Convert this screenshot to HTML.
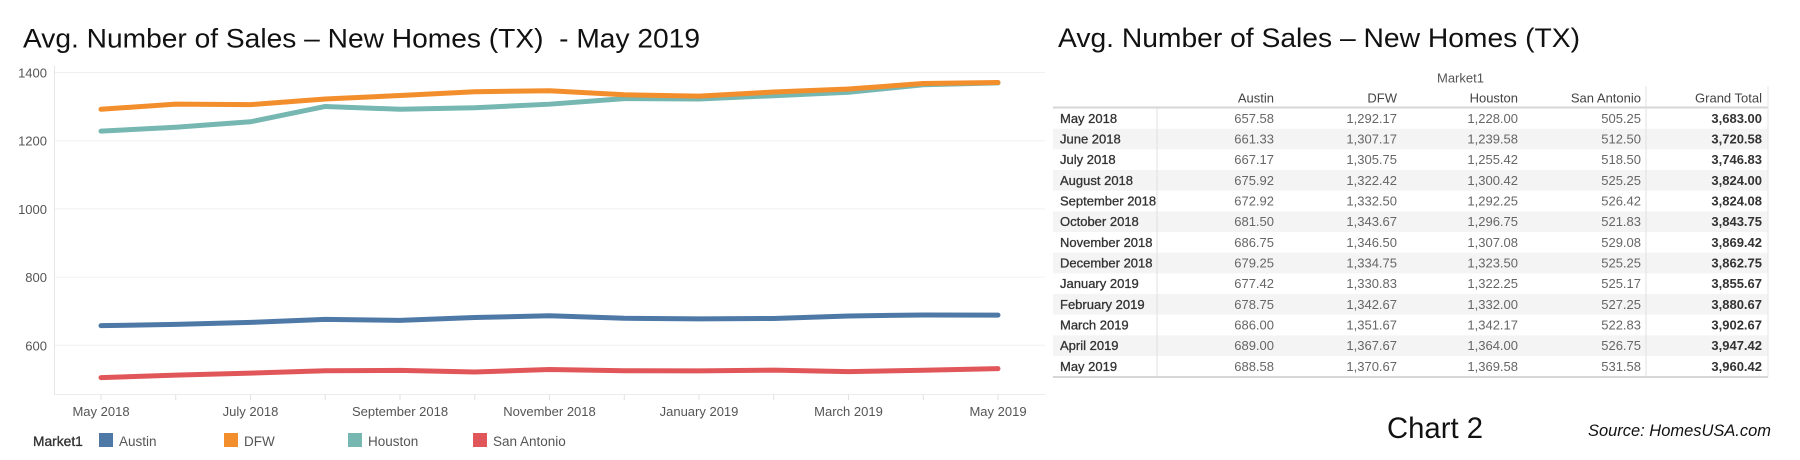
<!DOCTYPE html>
<html>
<head>
<meta charset="utf-8">
<style>
html,body{margin:0;padding:0;background:#fff;}
svg{display:block;}
text{font-family:"Liberation Sans",Arial,sans-serif;}
</style>
</head>
<body>
<svg width="1800" height="460" viewBox="0 0 1800 460" xmlns="http://www.w3.org/2000/svg">
<rect width="1800" height="460" fill="#fff"/>

<!-- Left title -->
<text x="23" y="47.5" font-size="27" fill="#111" textLength="677" lengthAdjust="spacingAndGlyphs">Avg. Number of Sales – New Homes (TX)&#160; - May 2019</text>

<!-- Gridlines -->
<g stroke="#f0f0f0" stroke-width="1">
<line x1="54" y1="72.5" x2="1045" y2="72.5"/>
<line x1="54" y1="140.7" x2="1045" y2="140.7"/>
<line x1="54" y1="208.9" x2="1045" y2="208.9"/>
<line x1="54" y1="277.1" x2="1045" y2="277.1"/>
<line x1="54" y1="345.3" x2="1045" y2="345.3"/>
</g>
<line x1="54.5" y1="66" x2="54.5" y2="395" stroke="#e6e6e6" stroke-width="1"/>
<line x1="54" y1="394.5" x2="1045" y2="394.5" stroke="#ebebeb" stroke-width="1"/>

<!-- month ticks -->
<g stroke="#e0e0e0" stroke-width="1">
<line x1="101" y1="395" x2="101" y2="400"/>
<line x1="175.75" y1="395" x2="175.75" y2="400"/>
<line x1="250.5" y1="395" x2="250.5" y2="400"/>
<line x1="325.25" y1="395" x2="325.25" y2="400"/>
<line x1="400" y1="395" x2="400" y2="400"/>
<line x1="474.75" y1="395" x2="474.75" y2="400"/>
<line x1="549.5" y1="395" x2="549.5" y2="400"/>
<line x1="624.25" y1="395" x2="624.25" y2="400"/>
<line x1="699" y1="395" x2="699" y2="400"/>
<line x1="773.75" y1="395" x2="773.75" y2="400"/>
<line x1="848.5" y1="395" x2="848.5" y2="400"/>
<line x1="923.25" y1="395" x2="923.25" y2="400"/>
<line x1="998" y1="395" x2="998" y2="400"/>
</g>

<!-- Y labels -->
<g font-size="13" fill="#555" text-anchor="end">
<text x="47" y="77.5">1400</text>
<text x="47" y="145.7">1200</text>
<text x="47" y="213.9">1000</text>
<text x="47" y="282.1">800</text>
<text x="47" y="350.3">600</text>
</g>

<!-- X labels -->
<g font-size="13" fill="#555" text-anchor="middle">
<text x="101" y="416">May 2018</text>
<text x="250.5" y="416">July 2018</text>
<text x="400" y="416">September 2018</text>
<text x="549.5" y="416">November 2018</text>
<text x="699" y="416">January 2019</text>
<text x="848.5" y="416">March 2019</text>
<text x="998" y="416">May 2019</text>
</g>

<!-- Series -->
<g fill="none" stroke-width="5" stroke-linecap="round" stroke-linejoin="round">
<polyline stroke="#4e79a7" points="101,325.67 175.75,324.39 250.5,322.40 325.25,319.41 400,320.43 474.75,317.51 549.5,315.72 624.25,318.28 699,318.90 773.75,318.45 848.5,315.97 923.25,314.95 998,315.09"/>
<polyline stroke="#76b7b2" points="101,131.15 175.75,127.20 250.5,121.80 325.25,106.46 400,109.24 474.75,107.71 549.5,104.19 624.25,98.59 699,99.01 773.75,95.69 848.5,92.22 923.25,84.78 998,82.87"/>
<polyline stroke="#f28e2b" points="101,109.27 175.75,104.16 250.5,104.64 325.25,98.95 400,95.52 474.75,91.71 549.5,90.74 624.25,94.75 699,96.09 773.75,92.05 848.5,88.98 923.25,83.52 998,82.50"/>
<polyline stroke="#e15759" points="101,377.61 175.75,375.14 250.5,373.09 325.25,370.79 400,370.39 474.75,371.96 549.5,369.48 624.25,370.79 699,370.82 773.75,370.11 848.5,371.62 923.25,370.28 998,368.63"/>
</g>

<!-- Legend -->
<text x="33" y="446" font-size="13.8" fill="#333" stroke="#333" stroke-width="0.35">Market1</text>
<rect x="99" y="433" width="14" height="14" fill="#4e79a7"/>
<text x="119" y="446" font-size="13.5" fill="#555">Austin</text>
<rect x="224" y="433" width="14" height="14" fill="#f28e2b"/>
<text x="244" y="446" font-size="13.5" fill="#555">DFW</text>
<rect x="348" y="433" width="14" height="14" fill="#76b7b2"/>
<text x="368" y="446" font-size="13.5" fill="#555">Houston</text>
<rect x="473" y="433" width="14" height="14" fill="#e15759"/>
<text x="493" y="446" font-size="13.5" fill="#555">San Antonio</text>

<!-- Right title -->
<text x="1058" y="47" font-size="27" fill="#111" textLength="522" lengthAdjust="spacingAndGlyphs">Avg. Number of Sales – New Homes (TX)</text>

<!-- Table shading -->
<g fill="#f4f4f4">
<rect x="1053" y="128.67" width="715" height="20.67"/>
<rect x="1053" y="170.0" width="715" height="20.67"/>
<rect x="1053" y="211.33" width="715" height="20.67"/>
<rect x="1053" y="252.67" width="715" height="20.67"/>
<rect x="1053" y="294.0" width="715" height="20.67"/>
<rect x="1053" y="335.33" width="715" height="20.67"/>
</g>

<!-- Table lines -->
<line x1="1053" y1="107.5" x2="1768" y2="107.5" stroke="#d6d6d6" stroke-width="2"/>
<line x1="1053" y1="377" x2="1768" y2="377" stroke="#d6d6d6" stroke-width="2"/>
<line x1="1157" y1="108" x2="1157" y2="377" stroke="#e0e0e0" stroke-width="1"/>
<line x1="1646" y1="86" x2="1646" y2="377" stroke="#e0e0e0" stroke-width="1"/>
<line x1="1768" y1="86" x2="1768" y2="377" stroke="#e6e6e6" stroke-width="1"/>

<!-- Table headers -->
<text x="1437" y="82.5" font-size="13" fill="#555">Market1</text>
<g font-size="13" fill="#444" text-anchor="end">
<text x="1274" y="102.5">Austin</text>
<text x="1397" y="102.5">DFW</text>
<text x="1518" y="102.5">Houston</text>
<text x="1641" y="102.5">San Antonio</text>
<text x="1762" y="102.5">Grand Total</text>
</g>

<!-- Row labels -->
<g font-size="13" fill="#333" stroke="#333" stroke-width="0.3">
<text x="1060" y="122.8">May 2018</text>
<text x="1060" y="143.5">June 2018</text>
<text x="1060" y="164.1">July 2018</text>
<text x="1060" y="184.8">August 2018</text>
<text x="1060" y="205.5">September 2018</text>
<text x="1060" y="226.2">October 2018</text>
<text x="1060" y="246.8">November 2018</text>
<text x="1060" y="267.5">December 2018</text>
<text x="1060" y="288.2">January 2019</text>
<text x="1060" y="308.8">February 2019</text>
<text x="1060" y="329.5">March 2019</text>
<text x="1060" y="350.2">April 2019</text>
<text x="1060" y="370.8">May 2019</text>
</g>

<!-- Austin -->
<g font-size="13" fill="#666" text-anchor="end">
<text x="1274" y="122.8">657.58</text>
<text x="1274" y="143.5">661.33</text>
<text x="1274" y="164.1">667.17</text>
<text x="1274" y="184.8">675.92</text>
<text x="1274" y="205.5">672.92</text>
<text x="1274" y="226.2">681.50</text>
<text x="1274" y="246.8">686.75</text>
<text x="1274" y="267.5">679.25</text>
<text x="1274" y="288.2">677.42</text>
<text x="1274" y="308.8">678.75</text>
<text x="1274" y="329.5">686.00</text>
<text x="1274" y="350.2">689.00</text>
<text x="1274" y="370.8">688.58</text>
</g>
<!-- DFW -->
<g font-size="13" fill="#666" text-anchor="end">
<text x="1397" y="122.8">1,292.17</text>
<text x="1397" y="143.5">1,307.17</text>
<text x="1397" y="164.1">1,305.75</text>
<text x="1397" y="184.8">1,322.42</text>
<text x="1397" y="205.5">1,332.50</text>
<text x="1397" y="226.2">1,343.67</text>
<text x="1397" y="246.8">1,346.50</text>
<text x="1397" y="267.5">1,334.75</text>
<text x="1397" y="288.2">1,330.83</text>
<text x="1397" y="308.8">1,342.67</text>
<text x="1397" y="329.5">1,351.67</text>
<text x="1397" y="350.2">1,367.67</text>
<text x="1397" y="370.8">1,370.67</text>
</g>
<!-- Houston -->
<g font-size="13" fill="#666" text-anchor="end">
<text x="1518" y="122.8">1,228.00</text>
<text x="1518" y="143.5">1,239.58</text>
<text x="1518" y="164.1">1,255.42</text>
<text x="1518" y="184.8">1,300.42</text>
<text x="1518" y="205.5">1,292.25</text>
<text x="1518" y="226.2">1,296.75</text>
<text x="1518" y="246.8">1,307.08</text>
<text x="1518" y="267.5">1,323.50</text>
<text x="1518" y="288.2">1,322.25</text>
<text x="1518" y="308.8">1,332.00</text>
<text x="1518" y="329.5">1,342.17</text>
<text x="1518" y="350.2">1,364.00</text>
<text x="1518" y="370.8">1,369.58</text>
</g>
<!-- San Antonio -->
<g font-size="13" fill="#666" text-anchor="end">
<text x="1641" y="122.8">505.25</text>
<text x="1641" y="143.5">512.50</text>
<text x="1641" y="164.1">518.50</text>
<text x="1641" y="184.8">525.25</text>
<text x="1641" y="205.5">526.42</text>
<text x="1641" y="226.2">521.83</text>
<text x="1641" y="246.8">529.08</text>
<text x="1641" y="267.5">525.25</text>
<text x="1641" y="288.2">525.17</text>
<text x="1641" y="308.8">527.25</text>
<text x="1641" y="329.5">522.83</text>
<text x="1641" y="350.2">526.75</text>
<text x="1641" y="370.8">531.58</text>
</g>
<!-- Grand Total -->
<g font-size="13" fill="#333" font-weight="bold" text-anchor="end">
<text x="1762" y="122.8">3,683.00</text>
<text x="1762" y="143.5">3,720.58</text>
<text x="1762" y="164.1">3,746.83</text>
<text x="1762" y="184.8">3,824.00</text>
<text x="1762" y="205.5">3,824.08</text>
<text x="1762" y="226.2">3,843.75</text>
<text x="1762" y="246.8">3,869.42</text>
<text x="1762" y="267.5">3,862.75</text>
<text x="1762" y="288.2">3,855.67</text>
<text x="1762" y="308.8">3,880.67</text>
<text x="1762" y="329.5">3,902.67</text>
<text x="1762" y="350.2">3,947.42</text>
<text x="1762" y="370.8">3,960.42</text>
</g>

<!-- Footer -->
<text x="1387" y="438" font-size="30" fill="#111" textLength="96" lengthAdjust="spacingAndGlyphs">Chart 2</text>
<text x="1588" y="436" font-size="16.5" font-style="italic" fill="#111" textLength="183" lengthAdjust="spacingAndGlyphs">Source: HomesUSA.com</text>
</svg>
</body>
</html>
